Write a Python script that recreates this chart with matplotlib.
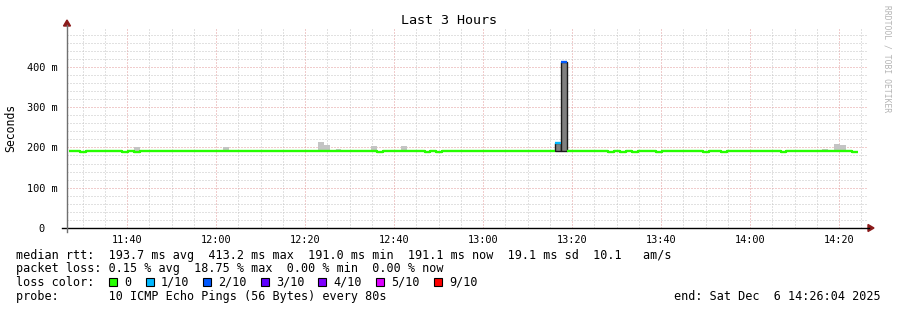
import matplotlib
matplotlib.use('Agg')
import matplotlib.pyplot as plt
from matplotlib.patches import Rectangle, Polygon
from matplotlib.lines import Line2D
from matplotlib.ticker import MultipleLocator
import numpy as np

plt.rcParams['font.family'] = ['DejaVu Sans Mono']

# ---- data ----
first_sample = "11:26:51"
step_s = 80
x_start, x_end = "11:26:30", "14:26:30"

median_ms = [
    191.1, 191.1, 189.0, 191.1, 191.1, 191.1, 191.1, 191.1, 191.1, 189.0,
    191.1, 189.0, 191.1, 191.1, 191.1, 191.1, 191.1, 191.1, 191.1, 191.1,
    191.1, 191.1, 191.1, 191.1, 191.1, 191.1, 191.1, 191.1, 191.1, 191.1,
    191.1, 191.1, 191.1, 191.1, 191.1, 191.1, 191.1, 191.1, 191.1, 191.1,
    191.1, 191.1, 191.1, 191.1, 191.1, 191.1, 191.1, 191.1, 191.1, 191.1,
    191.1, 191.1, 189.0, 191.1, 191.1, 191.1, 191.1, 191.1, 191.1, 191.1,
    189.0, 191.1, 189.0, 191.1, 191.1, 191.1, 191.1, 191.1, 191.1, 191.1,
    191.1, 191.1, 191.1, 191.1, 191.1, 191.1, 191.1, 191.1, 191.1, 191.1,
    191.1, 191.1, 211.0, 413.2, 191.1, 191.1, 191.1, 191.1, 191.1, 191.1,
    191.1, 189.0, 191.1, 189.0, 191.1, 189.0, 191.1, 191.1, 191.1, 189.0,
    191.1, 191.1, 191.1, 191.1, 191.1, 191.1, 191.1, 189.0, 191.1, 191.1,
    189.0, 191.1, 191.1, 191.1, 191.1, 191.1, 191.1, 191.1, 191.1, 191.1,
    189.0, 191.1, 191.1, 191.1, 191.1, 191.1, 191.1, 191.1, 191.1, 191.1,
    191.1, 191.1, 189.0,
]

# packet loss (pings lost out of 10) where it was not zero
loss_idx = [82, 83]
loss_count = [1, 2]

# smoke (spread of the pings) where it shows above the median
smoke_idx = [11, 26, 42, 43, 45, 51, 56, 82, 83, 127, 129, 130]
smoke_top = [202, 202, 214, 206, 197, 204, 204, 211, 413.2, 197, 209, 205]
dense_smoke = [82, 83]

y_ticks = [0, 100, 200, 300, 400]
y_tick_labels = ["0  ", "100 m", "200 m", "300 m", "400 m"]
x_tick_labels = ["11:40", "12:00", "12:20", "12:40", "13:00",
                 "13:20", "13:40", "14:00", "14:20"]

legend_names = ["0", "1/10", "2/10", "3/10", "4/10", "5/10", "9/10"]
legend_colors = ["#26ff00", "#00b8ff", "#0059ff", "#5e00ff",
                 "#7e00ff", "#dd00ff", "#ff0000"]
loss_colors = {0: "#26ff00", 1: "#00b8ff", 2: "#0059ff", 3: "#5e00ff",
               4: "#7e00ff", 5: "#dd00ff", 9: "#ff0000"}

stat_lines = [
    "median rtt:  193.7 ms avg  413.2 ms max  191.0 ms min  191.1 ms now  19.1 ms sd  10.1   am/s",
    "packet loss: 0.15 % avg  18.75 % max  0.00 % min  0.00 % now",
    "loss color:",
    "probe:       10 ICMP Echo Pings (56 Bytes) every 80s",
]
end_text = "end: Sat Dec  6 14:26:04 2025"


def minutes(hms):
    parts = [int(p) for p in hms.split(":")]
    while len(parts) < 3:
        parts.append(0)
    return parts[0] * 60 + parts[1] + parts[2] / 60.0


W, H = 897, 310


def fx(px):
    return px / W


def fy(py):
    return 1 - py / H


fig = plt.figure(figsize=(8.97, 3.10), dpi=100)
ax = fig.add_axes([fx(67), fy(228), fx(868) - fx(67), fy(27) - fy(228)])

n = len(median_ms)
edges = minutes(first_sample) + np.arange(n + 1) * step_s / 60.0
median = np.array(median_ms)
loss = np.zeros(n, dtype=int)
loss[loss_idx] = loss_count

# smoke
for k, top in zip(smoke_idx, smoke_top):
    if k in dense_smoke:
        ax.bar(edges[k], top - 190, bottom=190, width=step_s / 60.0, align='edge',
               color='#808080', edgecolor='#1a1a1a', linewidth=1.0, zorder=2)
    else:
        ax.bar(edges[k], top - median[k], bottom=median[k], width=step_s / 60.0,
               align='edge', color='#c4c4c4', linewidth=0, zorder=2)

# median coloured by loss
for lvl in np.unique(loss):
    y = np.where(loss == lvl, median, np.nan)
    ax.step(edges, np.append(y, y[-1]), where='post', color=loss_colors[lvl],
            linewidth=1.7, solid_capstyle='butt', zorder=3)

ax.set_xlim(minutes(x_start), minutes(x_end))
ax.set_ylim(0, 499)
ax.set_xticks([minutes(t) for t in x_tick_labels], labels=x_tick_labels)
ax.xaxis.set_minor_locator(MultipleLocator(5))
ax.set_yticks(y_ticks, labels=y_tick_labels)
ax.yaxis.set_minor_locator(MultipleLocator(20))

ax.set_axisbelow(True)
ax.grid(which='major', color='#e39a9a', linestyle=(0, (1, 2)), linewidth=0.72)
ax.grid(which='minor', color='#c4c4c4', linestyle=(0, (1, 2)), linewidth=0.72)
for s in ax.spines.values():
    s.set_visible(False)
ax.tick_params(which='both', length=0, labelsize=7.4)
ax.tick_params(axis='x', which='major', pad=5)
ax.tick_params(axis='y', which='major', pad=7)

fig.text(fx(11), fy(127.5), "Seconds", rotation=90, ha='center', va='center', fontsize=8.3)

# axes with arrows
fig.add_artist(Line2D([fx(62), fx(869)], [fy(228), fy(228)], color='black', linewidth=1.0))
fig.add_artist(Line2D([fx(67), fx(67)], [fy(232), fy(25)], color='#707070', linewidth=1.0))
fig.add_artist(Polygon([[fx(868), fy(224.5)], [fx(874), fy(228)], [fx(868), fy(231.5)]],
                       closed=True, color='#8b1a1a', transform=fig.transFigure))
fig.add_artist(Polygon([[fx(63.5), fy(26)], [fx(67), fy(20)], [fx(70.5), fy(26)]],
                       closed=True, color='#8b1a1a', transform=fig.transFigure))

fig.text(0.5, fy(23.5), "Last 3 Hours", ha='center', va='baseline', fontsize=9.6)
fig.text(fx(887), fy(59), "RRDTOOL / TOBI OETIKER", rotation=270, ha='center',
         va='center', fontsize=5.8, color='#b4b4b4')

baselines = [258.5, 272.2, 285.9, 299.6]
for line, b in zip(stat_lines, baselines):
    fig.text(fx(16), fy(b), line, ha='left', va='baseline', fontsize=8.45)
fig.text(fx(881), fy(baselines[3]), end_text, ha='right', va='baseline', fontsize=8.45)

box_x = [109, 146, 203, 261, 318, 376, 434]
for bx, name, col in zip(box_x, legend_names, legend_colors):
    fig.add_artist(Rectangle((fx(bx), fy(285.5)), 8 / W, 8 / H, facecolor=col,
                             edgecolor='black', linewidth=0.8, transform=fig.transFigure))
    fig.text(fx(bx + 15), fy(baselines[2]), name, ha='left', va='baseline', fontsize=8.45)

fig.savefig("out.png", dpi=100, facecolor='white')
